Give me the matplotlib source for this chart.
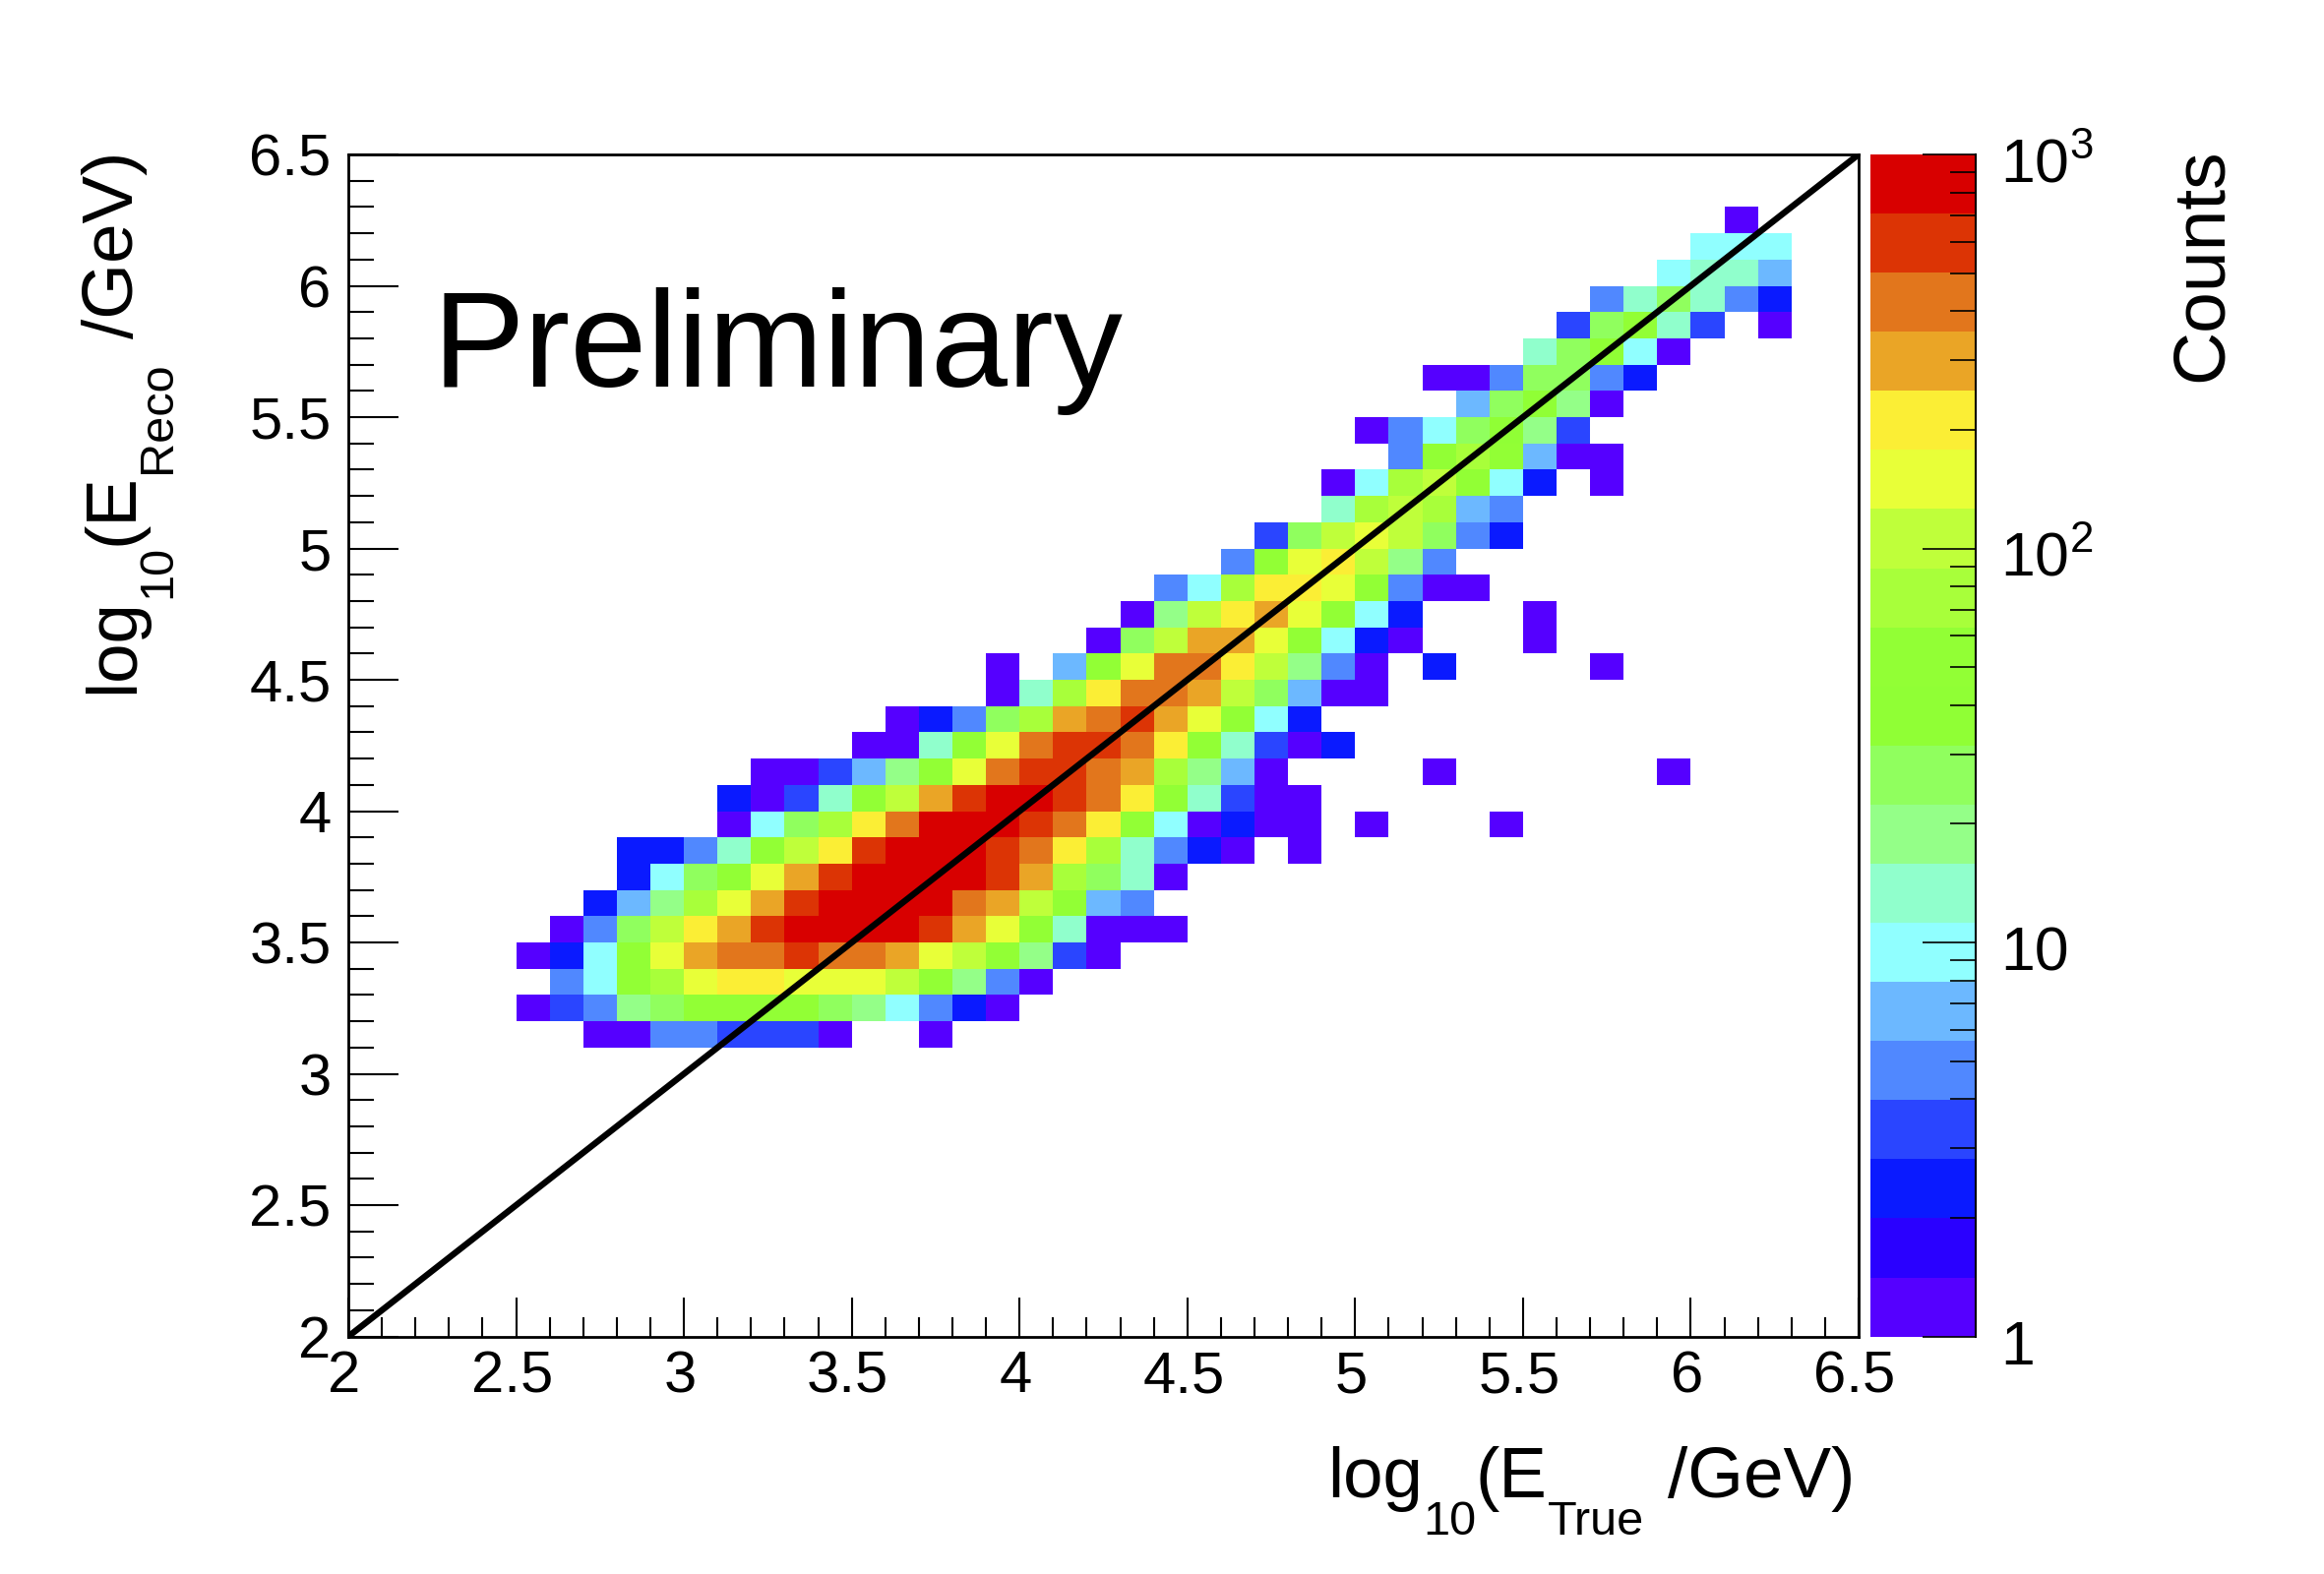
import matplotlib
matplotlib.use('Agg')
import matplotlib.pyplot as plt
import numpy as np
from matplotlib.colors import BoundaryNorm, ListedColormap
from matplotlib.ticker import FormatStrFormatter, MultipleLocator, NullFormatter, FixedLocator
from matplotlib.transforms import ScaledTranslation

plt.rcParams['font.family'] = ['Liberation Sans', 'DejaVu Sans']
plt.rcParams['mathtext.default'] = 'regular'

W, H = 2362, 1600

# counts per row of the histogram, each row starts at the given column
# column i covers log10(E_True) from 2.5 + 0.1*i, 0 means empty bin
row_31 = [1, 1, 4, 4, 3, 3, 3, 1, 0, 0, 1]
row_32 = [1, 3, 4, 19, 27, 53, 53, 53, 53, 27, 19, 9, 4, 2, 1]
row_33 = [4, 9, 53, 75, 150, 210, 210, 150, 150, 150, 105, 53, 19, 4, 1]
row_34 = [1, 2, 9, 53, 150, 300, 420, 420, 600, 420, 420, 300, 150, 105, 53, 19, 3, 1]
row_35 = [1, 4, 27, 105, 210, 300, 600, 800, 800, 800, 800, 600, 300, 150, 53, 13, 1, 1, 1]
row_36 = [2, 6, 19, 75, 150, 300, 600, 800, 800, 800, 800, 420, 300, 105, 53, 6, 4]
row_37 = [2, 9, 27, 53, 150, 300, 600, 800, 800, 800, 800, 600, 300, 75, 27, 13, 1]
row_38 = [2, 2, 4, 13, 53, 105, 210, 600, 800, 800, 800, 600, 420, 210, 75, 13, 4, 2, 1, 0, 1]
row_39 = [1, 9, 27, 75, 210, 420, 800, 800, 800, 600, 420, 210, 53, 9, 1, 2, 1, 1, 0, 1, 0, 0, 0, 1]
row_40 = [2, 1, 3, 13, 53, 105, 300, 600, 800, 800, 600, 420, 210, 53, 13, 3, 1, 1]
row_41 = [1, 1, 3, 6, 19, 53, 150, 420, 600, 600, 420, 300, 75, 19, 6, 1, 0, 0, 0, 0, 1, 0, 0, 0, 0, 0, 0, 1]
row_42 = [1, 1, 13, 53, 150, 420, 600, 600, 420, 210, 53, 13, 3, 1, 2]
row_43 = [1, 2, 4, 27, 75, 300, 420, 600, 300, 150, 53, 9, 2]
row_44 = [1, 13, 75, 210, 420, 420, 300, 105, 27, 6, 1, 1]
row_45 = [1, 0, 6, 53, 150, 420, 420, 210, 105, 19, 4, 1, 0, 2, 0, 0, 0, 0, 1]
row_46 = [1, 27, 105, 300, 300, 150, 53, 9, 2, 1, 0, 0, 0, 1]
row_47 = [1, 19, 105, 210, 300, 150, 53, 9, 2, 0, 0, 0, 1]
row_48 = [4, 9, 75, 210, 210, 150, 53, 4, 1, 1]
row_49 = [4, 53, 150, 210, 105, 19, 4]
row_50 = [3, 27, 105, 150, 105, 27, 4, 2]
row_51 = [13, 75, 105, 75, 6, 4]
row_52 = [1, 9, 75, 105, 53, 9, 2, 0, 1]
row_53 = [4, 53, 75, 53, 6, 1, 1]
row_54 = [1, 4, 9, 27, 38, 19, 3]
row_55 = [6, 27, 38, 19, 1]
row_56 = [1, 1, 4, 27, 27, 4, 2]
row_57 = [13, 27, 38, 9, 1]
row_58 = [3, 27, 53, 13, 3, 0, 1]
row_59 = [4, 13, 27, 13, 4, 2]
row_60 = [9, 13, 13, 6]
row_61 = [9, 9, 9]
row_62 = [1]

rows = [row_31, row_32, row_33, row_34, row_35, row_36, row_37, row_38,
        row_39, row_40, row_41, row_42, row_43, row_44, row_45, row_46,
        row_47, row_48, row_49, row_50, row_51, row_52, row_53, row_54,
        row_55, row_56, row_57, row_58, row_59, row_60, row_61, row_62]
row_starts = [2, 0, 1, 0, 1, 2, 3, 3, 6, 6, 7, 10, 11, 14, 14, 17,
              18, 19, 21, 22, 24, 24, 26, 25, 28, 27, 30, 31, 32, 34, 35, 36]

palette = ['#5500ff', '#2a00ff', '#0a1aff', '#2a45ff', '#5088ff', '#6cb8ff',
           '#90ffff', '#90ffcc', '#94ff88', '#90ff5e', '#90ff35', '#92ff35',
           '#a8ff3a', '#bfff3a', '#e8ff38', '#fbee35', '#eaa526', '#e2761c',
           '#dc3405', '#d80000']

# build the 2d histogram
x_edges = np.arange(25, 64) / 10
y_edges = np.arange(31, 64) / 10
grid = np.zeros((len(y_edges) - 1, len(x_edges) - 1))
for j in range(len(rows)):
    grid[j, row_starts[j]:row_starts[j] + len(rows[j])] = rows[j]
grid = np.ma.masked_equal(grid, 0)

levels = np.logspace(0, 3, 21)
cmap = ListedColormap(palette)
norm = BoundaryNorm(levels, cmap.N)

fig = plt.figure(figsize=(W / 100, H / 100), dpi=100)
ax = fig.add_axes([354 / W, 241.4 / H, 1535 / W, 1201.6 / H])
cax = fig.add_axes([1901 / W, 241.4 / H, 107 / W, 1201.6 / H])

ax.pcolormesh(x_edges, y_edges, grid, cmap=cmap, norm=norm)
ax.plot([2, 6.5], [2, 6.5], color='black', lw=4.6, solid_capstyle='butt')

ax.set_xlim(2, 6.5)
ax.set_ylim(2, 6.5)
ax.xaxis.set_major_locator(MultipleLocator(0.5))
ax.xaxis.set_minor_locator(MultipleLocator(0.1))
ax.yaxis.set_major_locator(MultipleLocator(0.5))
ax.yaxis.set_minor_locator(MultipleLocator(0.1))
ax.xaxis.set_major_formatter(FormatStrFormatter('%g'))
ax.yaxis.set_major_formatter(FormatStrFormatter('%g'))
ax.tick_params(axis='x', which='major', direction='in', length=29, width=1.5, labelsize=43, pad=10)
ax.tick_params(axis='x', which='minor', direction='in', length=14.5, width=1.5)
ax.tick_params(axis='y', which='major', direction='in', length=37, width=1.5, labelsize=43, pad=12.5)
ax.tick_params(axis='y', which='minor', direction='in', length=18.5, width=1.5)
for s in ax.spines.values():
    s.set_linewidth(2)

# x numbers sit a little left of their ticks in the original
for lbl in ax.get_xticklabels():
    lbl.set_transform(lbl.get_transform() + ScaledTranslation(-4 / 100, 0, fig.dpi_scale_trans))

ax.text(2.252, 5.615, 'Preliminary', fontsize=101, ha='left', va='baseline')


# axis titles with the low subscripts of the original, one piece after another
def draw_title(pieces, start, base, vertical=False):
    renderer = fig.canvas.get_renderer()
    pos = start
    for s, size, drop, gap in pieces:
        pos += gap
        if vertical:
            t = fig.text((base + drop) / W, (H - pos) / H, s, fontsize=size, rotation=90,
                         rotation_mode='anchor', ha='left', va='baseline')
        else:
            t = fig.text(pos / W, (H - base - drop) / H, s, fontsize=size,
                         ha='left', va='baseline')
        w, _, _ = renderer.get_text_width_height_descent(s, t.get_fontproperties(), False)
        pos += -w if vertical else w


def title_pieces(sub):
    return [('log', 52.5, 0, 0), ('10', 35, 38, 0), ('(E', 52.5, 0, 0),
            (sub, 35, 38, 0), ('/GeV)', 52.5, 0, 24)]


def draw_title_up(pieces, start, base):
    # gaps count against the direction of the text when it runs upwards
    draw_title([(s, size, drop, -gap) for s, size, drop, gap in pieces], start, base, vertical=True)


draw_title(title_pieces('True'), 1349, 1522)
draw_title_up(title_pieces('Reco'), 705, 135)

# colour scale
cax.pcolormesh([0, 1], levels, np.arange(20).reshape(-1, 1), cmap=cmap,
               vmin=-0.5, vmax=19.5)
cax.set_yscale('log')
cax.set_ylim(1, 1000)
cax.set_xticks([])
cax.yaxis.tick_right()
cax.yaxis.set_major_locator(FixedLocator([1, 10, 100, 1000]))
cax.yaxis.set_minor_locator(FixedLocator([m * d for d in [1, 10, 100] for m in range(2, 10)]))
cax.yaxis.set_minor_formatter(NullFormatter())
cax.set_yticklabels(['1', '10', '10$^{2}$', '10$^{3}$'])
cax.tick_params(axis='y', which='major', direction='in', length=39, width=1.2, labelsize=45, pad=18)
cax.tick_params(axis='y', which='minor', direction='in', length=19, width=1.2)
cax.spines['left'].set_visible(False)
cax.spines['top'].set_visible(False)
cax.spines['bottom'].set_visible(False)
cax.spines['right'].set_linewidth(1.5)
for lbl in cax.get_yticklabels():
    lbl.set_transform(lbl.get_transform() + ScaledTranslation(0, -5 / 100, fig.dpi_scale_trans))
fig.text(2238 / W, (H - 150) / H, 'Counts', fontsize=54, rotation=90, ha='center', va='top')

fig.savefig('out.png', dpi=100)
